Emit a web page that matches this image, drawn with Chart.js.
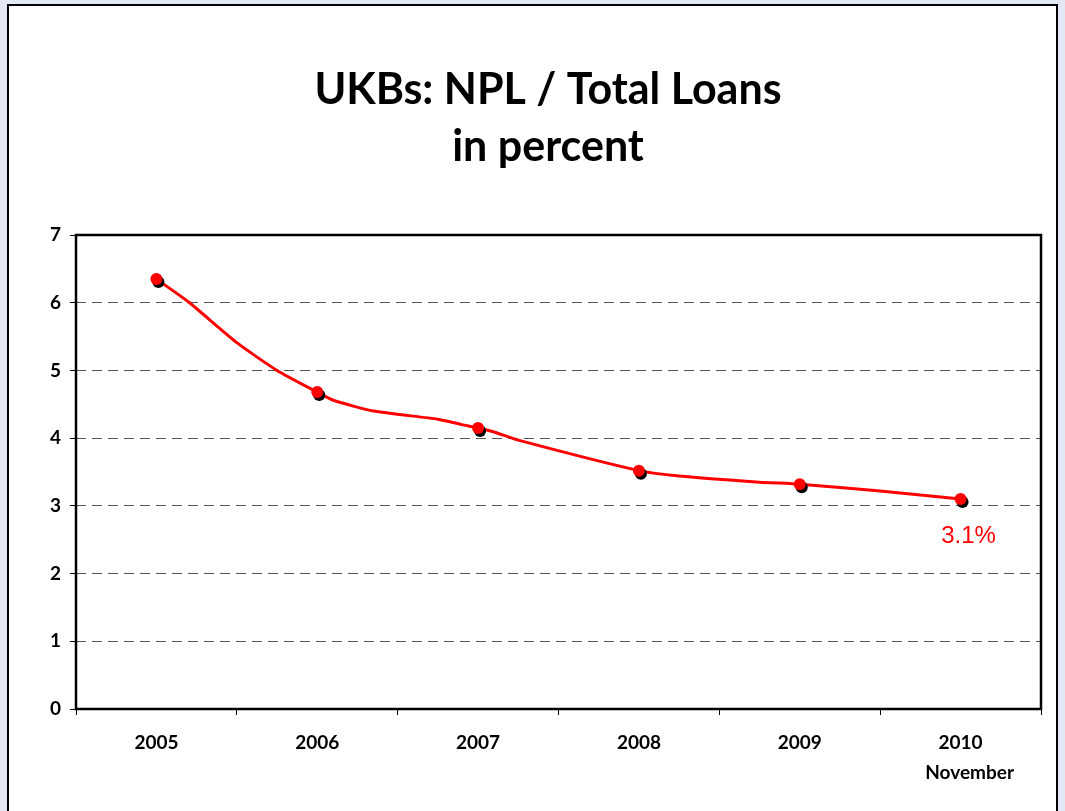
<!DOCTYPE html>
<html>
<head>
<meta charset="utf-8">
<title>UKBs: NPL / Total Loans</title>
<script src="https://cdn.jsdelivr.net/npm/chart.js@4/dist/chart.umd.min.js"></script>
<style>
  html, body { margin: 0; padding: 0; background: #e4e8f5; }
  #wrap { position: relative; width: 1065px; height: 811px; }
</style>
</head>
<body>
<div id="wrap"><canvas id="npl" width="1065" height="811"></canvas></div>
<script>
// Year categories shown on the horizontal axis
const yearLabels = ['2005', '2006', '2007', '2008', '2009', '2010'];
const yearPositions = [2005, 2006, 2007, 2008, 2009, 2010];
// Year-end NPL ratio, percent (2010 = November)
const annualNpl = [6.35, 4.68, 4.15, 3.52, 3.32, 3.1];
// Intra-year path of the ratio, percent
const pathYears = [2005, 2005.2, 2005.5, 2005.75, 2006, 2006.1, 2006.35, 2006.75, 2006.9, 2007,
                   2007.1, 2007.25, 2008, 2008.25, 2008.75, 2009, 2009.5, 2010];
const pathNpl = [6.35, 6.01, 5.41, 5.0, 4.68, 4.56, 4.40, 4.28, 4.20, 4.15,
                 4.09, 3.97, 3.52, 3.44, 3.35, 3.32, 3.22, 3.10];
const yTicks = [0, 1, 2, 3, 4, 5, 6, 7];
const titleLines = ['UKBs: NPL / Total Loans', 'in percent'];
const lastNote = 'November';

const RED = '#ff0000';

// page frame: tinted surround, white panel with black outline
const framePlugin = {
  id: 'frame',
  beforeDraw(chart) {
    const c = chart.ctx;
    c.save();
    c.fillStyle = '#e4e8f5';
    c.fillRect(0, 0, chart.width, chart.height);
    c.fillStyle = '#ffffff';
    c.fillRect(9, 6, 1047, 820);
    c.strokeStyle = '#000';
    c.lineWidth = 2;
    c.strokeRect(8, 5, 1049, 830);
    c.restore();
  }
};

// two-line heading centred on the panel
const heading = {
  id: 'heading',
  afterDraw(chart) {
    const c = chart.ctx;
    c.save();
    c.fillStyle = '#000';
    c.font = 'bold 43px Lato, sans-serif';
    c.textAlign = 'center';
    c.textBaseline = 'middle';
    c.fillText(titleLines[0], 548, 90);
    c.fillText(titleLines[1], 548, 147);
    c.restore();
  }
};

// solid border round the plot area
const plotBorder = {
  id: 'plotBorder',
  beforeDatasetsDraw(chart) {
    const a = chart.chartArea, c = chart.ctx;
    c.save();
    c.strokeStyle = '#000';
    c.lineWidth = 2.5;
    c.strokeRect(a.left, a.top, a.right - a.left, a.bottom - a.top);
    c.restore();
  }
};

// black drop shadow under the year-end markers
const pointShadow = {
  id: 'pointShadow',
  beforeDatasetDraw(chart, args) {
    if (args.index === 0) {
      const c = chart.ctx;
      c.save();
      c.shadowColor = '#000';
      c.shadowOffsetX = 2;
      c.shadowOffsetY = 3;
      c.shadowBlur = 0;
    }
  },
  afterDatasetDraw(chart, args) {
    if (args.index === 0) chart.ctx.restore();
  }
};

// value note under the latest point and the month under its year
const notes = {
  id: 'notes',
  afterDatasetsDraw(chart) {
    const c = chart.ctx;
    const meta = chart.getDatasetMeta(0);
    const last = meta.data[meta.data.length - 1];
    const v = annualNpl[annualNpl.length - 1];
    c.save();
    c.fillStyle = RED;
    c.font = '24px "Liberation Sans", Arial, sans-serif';
    c.textAlign = 'center';
    c.textBaseline = 'middle';
    c.fillText(v.toFixed(1) + '%', last.x + 8, last.y + 37);
    c.fillStyle = '#000';
    c.font = 'bold 19px Lato, sans-serif';
    const xs = chart.scales.x;
    c.fillText(lastNote, xs.getPixelForValue(yearPositions[yearPositions.length - 1]) + 9, 773);
    c.restore();
  }
};

new Chart(document.getElementById('npl'), {
  type: 'line',
  data: {
    datasets: [
      {
        label: 'Year-end',
        data: yearPositions.map((x, i) => ({ x, y: annualNpl[i] })),
        showLine: false,
        pointRadius: 6,
        pointHoverRadius: 6,
        pointBackgroundColor: RED,
        pointBorderColor: RED,
        pointBorderWidth: 0
      },
      {
        label: 'NPL / Total Loans',
        data: pathYears.map((x, i) => ({ x, y: pathNpl[i] })),
        borderColor: RED,
        borderWidth: 3,
        pointRadius: 0,
        tension: 0.2,
        fill: false
      }
    ]
  },
  options: {
    responsive: false,
    animation: false,
    layout: { padding: { left: 0, right: 24, top: 235, bottom: 0 } },
    plugins: {
      legend: { display: false },
      tooltip: { enabled: false },
      title: { display: false }
    },
    scales: {
      x: {
        type: 'linear',
        min: 2004.5,
        max: 2010.5,
        afterFit(s) { s.height = 102; },
        afterBuildTicks(s) {
          const t = [];
          for (let k = 0; k <= 12; k++) t.push({ value: 2004.5 + k * 0.5 });
          s.ticks = t;
        },
        ticks: {
          autoSkip: false,
          maxRotation: 0,
          padding: 16,
          color: '#000',
          font: { family: 'Lato, sans-serif', size: 19, weight: 'bold' },
          callback(v) {
            const i = yearPositions.indexOf(Math.round(v * 2) / 2);
            return i >= 0 ? yearLabels[i] : '';
          }
        },
        grid: {
          drawOnChartArea: false,
          drawTicks: true,
          tickLength: 6,
          tickWidth: 1,
          tickColor: ctx => (Math.abs(ctx.tick.value % 1) < 1e-6 ? 'rgba(0,0,0,0)' : '#000')
        },
        border: { display: false }
      },
      y: {
        min: 0,
        max: 7,
        afterFit(s) { s.width = 76; },
        afterBuildTicks(s) { s.ticks = yTicks.map(v => ({ value: v })); },
        ticks: {
          padding: 9,
          color: '#000',
          font: { family: 'Lato, sans-serif', size: 19, weight: 'bold' }
        },
        grid: {
          color: ctx => (ctx.tick.value === 0 || ctx.tick.value === 7 ? 'rgba(0,0,0,0)' : '#555'),
          lineWidth: 1,
          tickLength: 6,
          tickColor: '#000',
          tickWidth: 1,
          tickBorderDash: []
        },
        border: { display: false, dash: [10, 6] }
      }
    }
  },
  plugins: [framePlugin, heading, plotBorder, pointShadow, notes]
});
</script>
</body>
</html>
